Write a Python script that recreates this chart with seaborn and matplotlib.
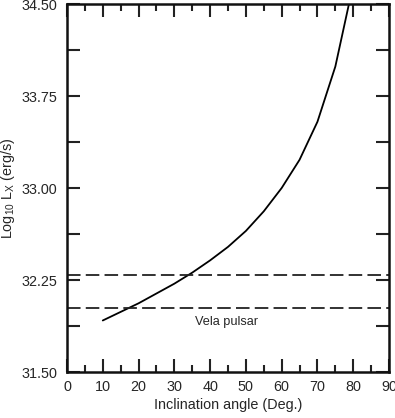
import numpy as np
import pandas as pd
import matplotlib
matplotlib.use("Agg")
import matplotlib.pyplot as plt
from matplotlib.ticker import MultipleLocator, FixedLocator
import seaborn as sns

# data
angle = [10, 15, 20, 25, 30, 35, 40, 45, 50, 55, 60, 65, 70, 75, 80]
log_lx = [31.92, 31.99, 32.06, 32.14, 32.22, 32.31, 32.41, 32.52, 32.65, 32.81,
          33.00, 33.23, 33.54, 33.99, 34.66]
vela_levels = [32.29, 32.02]
vela_label = "Vela pulsar"
yticks_major = [31.50, 32.25, 33.00, 33.75, 34.50]

sns.set_style("ticks")
plt.rcParams['font.family'] = ['Liberation Sans', 'DejaVu Sans']
plt.rcParams['mathtext.fontset'] = 'custom'
plt.rcParams['mathtext.rm'] = 'Liberation Sans'
plt.rcParams['mathtext.it'] = 'Liberation Sans'

fig = plt.figure(figsize=(3.95, 4.18), dpi=100)
ax = fig.add_axes([67/395, 1-372/418, 322/395, 368/418])

df = pd.DataFrame({"angle": angle, "lx": log_lx})
sns.lineplot(data=df, x="angle", y="lx", ax=ax, color="black", lw=1.3)

for lv in vela_levels:
    ax.axhline(lv, color="#222222", lw=1.3, dashes=(7.5, 2.9))

ax.text(44.7, 31.91, vela_label, ha="center", va="center", fontsize=9.2)

ax.set_xlim(0, 90)
ax.set_ylim(31.5, 34.5)
ax.xaxis.set_major_locator(MultipleLocator(10))
ax.xaxis.set_minor_locator(MultipleLocator(5))
ax.yaxis.set_major_locator(FixedLocator(yticks_major))
ax.yaxis.set_minor_locator(MultipleLocator(0.375))
ax.set_yticklabels([f"{v:.2f}" for v in yticks_major])

ax.tick_params(axis='both', which='both', direction='in', top=True, right=True,
               width=1.5, labelsize=10.4, color='#222222')
ax.tick_params(axis='x', which='major', length=9.5, pad=6)
ax.tick_params(axis='x', which='minor', length=5)
ax.tick_params(axis='y', which='both', length=9.5, pad=7)

for s in ax.spines.values():
    s.set_linewidth(1.8)
    s.set_color('#111111')

ax.set_xlabel("Inclination angle (Deg.)", fontsize=10.4)
ax.set_ylabel(r"Log$_{10}$ L$_{\rm X}$ (erg/s)", fontsize=10.4)
ax.xaxis.label.set_va('center')
ax.yaxis.label.set_va('center')
ax.xaxis.set_label_coords(0.5, (372-405)/368)
ax.yaxis.set_label_coords((8.5-67)/322, 0.5)

fig.savefig("out.png", dpi=100)
